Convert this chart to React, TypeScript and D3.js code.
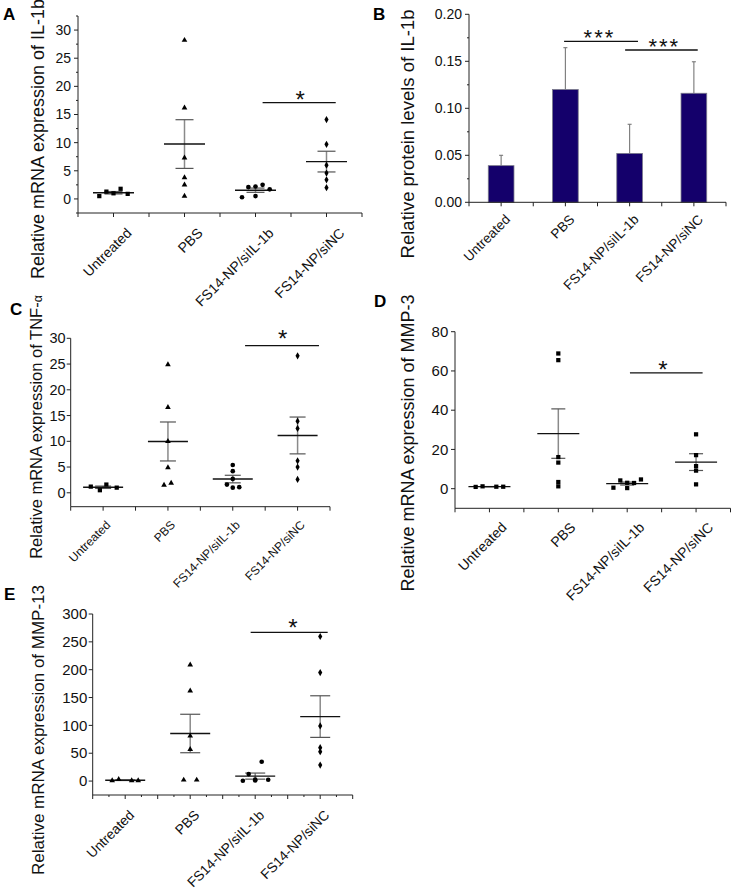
import React from "react";
import * as d3 from "d3";

const categories = ["Untreated", "PBS", "FS14-NP/siIL-1b", "FS14-NP/siNC"];

// Panel A: IL-1b mRNA
const aUntreated = [0.5, 1.3, 1.0, 1.8, 0.9];
const aPBS = [28.2, 16.2, 7.3, 3.8, 2.5, 0.5];
const aSiIL = [0.3, 2.1, 2.2, 0.5, 2.5, 1.7];
const aSiNC = [14.1, 9.7, 6.0, 4.6, 3.4, 2.0];
const aJitter = [[-0.2, -0.1, 0, 0.1, 0.2], [0, 0, 0, 0, 0, 0], [-0.19, -0.1, 0, 0, 0.1, 0.2], [0, 0, 0, 0, 0, 0]];
const aTicks = [0, 5, 10, 15, 20, 25, 30];

// Panel B: IL-1b protein
const bMeans = [0.039, 0.12, 0.052, 0.116];
const bErrors = [0.011, 0.0445, 0.031, 0.0335];
const bTicks = [0, 0.05, 0.1, 0.15, 0.2];

// Panel C: TNF-a mRNA
const cUntreated = [1.2, 0.5, 1.6, 1.0];
const cPBS = [24.9, 16.6, 10.0, 4.9, 1.5, 1.9];
const cSiIL = [5.4, 4.2, 2.7, 1.6, 1.0, 1.1];
const cSiNC = [26.6, 13.9, 12.5, 6.2, 5.0, 2.6];
const cJitter = [[-0.19, -0.05, 0.05, 0.21], [0, 0, 0, 0, -0.06, 0.05], [0, 0, 0, -0.09, 0, 0.1], [0, 0, 0, 0, 0, 0]];
const cTicks = [0, 5, 10, 15, 20, 25, 30];

// Panel D: MMP-3 mRNA
const dUntreated = [0.9, 1.2, 1.0, 1.0];
const dPBS = [68.9, 65.5, 16.1, 13.3, 3.4, 1.2];
const dSiIL = [0.5, 4.2, 3.0, 0.3, 2.9, 4.7];
const dSiNC = [27.7, 17.1, 11.5, 9.2, 2.2];
const dJitter = [[-0.2, -0.1, 0.1, 0.2], [0, 0, 0, 0, 0, 0], [-0.2, -0.1, 0, 0, 0.1, 0.2], [0, 0, 0, 0, 0]];
const dTicks = [0, 20, 40, 60, 80];

// Panel E: MMP-13 mRNA
const eUntreated = [1, 3, 1, 1];
const ePBS = [208.6, 162, 81, 57, 2, 2];
const eSiIL = [0.5, 12.6, 1.0, 2.5, 34.7, 2.3];
const eSiNC = [259.6, 194.8, 99, 60, 52.7, 28.8];
const eJitter = [[-0.2, -0.1, 0.1, 0.2], [0, 0, 0, 0, -0.1, 0.1], [-0.19, -0.1, 0, 0, 0.1, 0.2], [0, 0, 0, 0, 0, 0]];
const eTicks = [0, 50, 100, 150, 200, 250, 300];

const FONT = "'Liberation Sans', Arial, Helvetica, sans-serif";

const symbolTypes: Record<string, any> = {
  square: d3.symbolSquare,
  triangle: d3.symbolTriangle,
  circle: d3.symbolCircle,
  diamond: d3.symbolDiamond,
};
const symbolSizes: Record<string, number> = { square: 18, triangle: 14, circle: 17, diamond: 15 };

function sem(v: number[]) {
  const sd = d3.deviation(v) ?? 0;
  return sd / Math.sqrt(v.length);
}

type Sig = { x1: number; x2: number; y: number; label: string; lx: number; ly: number };

type Cfg = {
  letter: string; letterX: number; letterY: number;
  x0: number; x1: number;
  yDomain: [number, number]; yRange: [number, number];
  yTicks: number[]; yMinorStep?: number; yFmt: (v: number) => string;
  yTickFs: number; yTickGap: number;
  ylabel: React.ReactNode; ylabelX: number; ylabelY: number; ylabelFs: number;
  xLabelFs: number; xLabelDx: number; xLabelDy: number; xMinorStep: number;
  sigs: Sig[]; sigFs: number; sigSpacing?: number;
};

function Axes({ cfg, x, y }: { cfg: Cfg; x: any; y: any }) {
  const axisY = y(cfg.yDomain[0]);
  const minors: number[] = [];
  if (cfg.yMinorStep) {
    for (let v = cfg.yDomain[0]; v <= cfg.yDomain[1] + 1e-9; v += cfg.yMinorStep) {
      if (!cfg.yTicks.some((t) => Math.abs(t - v) < 1e-9)) minors.push(v);
    }
  }
  const xMinor: number[] = [];
  for (let v = 0.5; v <= 4.5 + 1e-9; v += cfg.xMinorStep) xMinor.push(v);
  return (
    <g>
      <line x1={cfg.x0} x2={cfg.x0} y1={y(cfg.yDomain[1])} y2={axisY} stroke="#222" strokeWidth={1} />
      <line x1={cfg.x0} x2={cfg.x1} y1={axisY} y2={axisY} stroke="#222" strokeWidth={1} />
      {cfg.yTicks.map((t) => (
        <g key={"yt" + t}>
          <line x1={cfg.x0 - 4} x2={cfg.x0} y1={y(t)} y2={y(t)} stroke="#222" />
          <text x={cfg.x0 - cfg.yTickGap} y={y(t)} dy="0.35em" textAnchor="end" fontSize={cfg.yTickFs} fontFamily={FONT} fill="#111">
            {cfg.yFmt(t)}
          </text>
        </g>
      ))}
      {minors.map((t) => (
        <line key={"ym" + t} x1={cfg.x0 - 2} x2={cfg.x0} y1={y(t)} y2={y(t)} stroke="#222" />
      ))}
      {xMinor.map((v) => {
        const major = Math.abs(v * 2 - Math.round(v * 2)) < 1e-9;
        return <line key={"xm" + v} x1={x(v)} x2={x(v)} y1={axisY} y2={axisY + (major ? 4 : 2)} stroke="#222" />;
      })}
      {categories.map((c, i) => (
        <text
          key={c}
          transform={`translate(${x(i + 1) + cfg.xLabelDx},${axisY + cfg.xLabelDy}) rotate(-45)`}
          textAnchor="end"
          fontSize={cfg.xLabelFs}
          fontFamily={FONT}
          fill="#111"
        >
          {c}
        </text>
      ))}
      <text
        transform={`translate(${cfg.ylabelX},${cfg.ylabelY}) rotate(-90)`}
        textAnchor="middle"
        fontSize={cfg.ylabelFs}
        fontFamily={FONT}
        fill="#111"
      >
        {cfg.ylabel}
      </text>
      <text x={cfg.letterX} y={cfg.letterY} fontSize={17} fontWeight="bold" fontFamily={FONT} fill="#000">
        {cfg.letter}
      </text>
      {cfg.sigs.map((s, i) => (
        <g key={"sig" + i}>
          <line x1={x(s.x1)} x2={x(s.x2)} y1={y(s.y)} y2={y(s.y)} stroke="#111" strokeWidth={1.3} />
          <text x={x(s.lx)} y={y(s.ly) + cfg.sigFs * 0.56} textAnchor="middle" fontSize={cfg.sigFs} fontFamily={FONT} fill="#111"
            letterSpacing={cfg.sigSpacing ?? 0}>
            {s.label}
          </text>
        </g>
      ))}
    </g>
  );
}

function ScatterPanel({ cfg, groups, jitter, shapes, meanHalf, capHalf }: {
  cfg: Cfg; groups: number[][]; jitter: number[][]; shapes: string[]; meanHalf: number; capHalf: number;
}) {
  const x = d3.scaleLinear().domain([0.5, 4.5]).range([cfg.x0, cfg.x1]);
  const y = d3.scaleLinear().domain(cfg.yDomain).range(cfg.yRange);
  return (
    <g>
      <Axes cfg={cfg} x={x} y={y} />
      {groups.map((vals, gi) => {
        const cx = x(gi + 1);
        const m = d3.mean(vals) as number;
        const e = sem(vals);
        const sym = d3.symbol().type(symbolTypes[shapes[gi]]).size(symbolSizes[shapes[gi]])();
        return (
          <g key={"g" + gi}>
            <line x1={cx} x2={cx} y1={y(m + e)} y2={y(m - e)} stroke="#8a8a8a" strokeWidth={1.5} />
            <line x1={cx - capHalf} x2={cx + capHalf} y1={y(m + e)} y2={y(m + e)} stroke="#555" strokeWidth={1.2} />
            <line x1={cx - capHalf} x2={cx + capHalf} y1={y(m - e)} y2={y(m - e)} stroke="#555" strokeWidth={1.2} />
            <line x1={cx - meanHalf} x2={cx + meanHalf} y1={y(m)} y2={y(m)} stroke="#111" strokeWidth={1.4} />
            {vals.map((v, i) => (
              <path key={i} d={sym as string} transform={`translate(${x(gi + 1 + jitter[gi][i])},${y(v)})`} fill="#000" />
            ))}
          </g>
        );
      })}
    </g>
  );
}

function BarPanel({ cfg }: { cfg: Cfg }) {
  const x = d3.scaleLinear().domain([0.5, 4.5]).range([cfg.x0, cfg.x1]);
  const y = d3.scaleLinear().domain(cfg.yDomain).range(cfg.yRange);
  const band = (cfg.x1 - cfg.x0) / 4;
  const bw = band * 0.4;
  return (
    <g>
      {bMeans.map((m, i) => {
        const cx = x(i + 1);
        return (
          <g key={"b" + i}>
            <line x1={cx} x2={cx} y1={y(m)} y2={y(m + bErrors[i])} stroke="#777" strokeWidth={1.1} />
            <line x1={cx - 2} x2={cx + 2} y1={y(m + bErrors[i])} y2={y(m + bErrors[i])} stroke="#777" strokeWidth={1.1} />
            <rect x={cx - bw / 2} y={y(m)} width={bw} height={y(0) - y(m)} fill="#14006b" stroke="#7a7a8a" strokeWidth={0.8} />
          </g>
        );
      })}
      <Axes cfg={cfg} x={x} y={y} />
    </g>
  );
}

const fmtInt = (v: number) => d3.format("d")(v);

const cfgA: Cfg = {
  letter: "A", letterX: 3, letterY: 20,
  x0: 78, x1: 362, yDomain: [-2.5, 32.5], yRange: [213, 16],
  yTicks: aTicks, yMinorStep: 2.5, yFmt: fmtInt, yTickFs: 14, yTickGap: 7,
  ylabel: "Relative mRNA expression of IL-1b", ylabelX: 44, ylabelY: 139, ylabelFs: 18,
  xLabelFs: 14, xLabelDx: 19, xLabelDy: 21, xMinorStep: 0.5,
  sigs: [{ x1: 3.1, x2: 4.13, y: 17.1, label: "*", lx: 3.63, ly: 18.5 }], sigFs: 24,
};

const cfgB: Cfg = {
  letter: "B", letterX: 373, letterY: 20,
  x0: 469, x1: 726, yDomain: [0, 0.2], yRange: [202.3, 14.3],
  yTicks: bTicks, yMinorStep: 0.025, yFmt: (v) => d3.format(".2f")(v), yTickFs: 14, yTickGap: 7,
  ylabel: "Relative protein levels of IL-1b", ylabelX: 413.5, ylabelY: 134, ylabelFs: 18.5,
  xLabelFs: 13.5, xLabelDx: 10, xLabelDy: 18, xMinorStep: 0.5,
  sigs: [
    { x1: 1.98, x2: 3.13, y: 0.1713, label: "***", lx: 2.53, ly: 0.1804 },
    { x1: 2.93, x2: 4.06, y: 0.162, label: "***", lx: 3.54, ly: 0.1709 },
  ],
  sigFs: 22, sigSpacing: 2,
};

const cfgC: Cfg = {
  letter: "C", letterX: 10, letterY: 315,
  x0: 70.7, x1: 330, yDomain: [-2.7, 30], yRange: [506.7, 338.3],
  yTicks: cTicks, yFmt: fmtInt, yTickFs: 14.5, yTickGap: 5,
  ylabel: (
    <>
      {"Relative mRNA expression of TNF-"}
      <tspan fontSize="0.75em">α</tspan>
    </>
  ),
  ylabelX: 42, ylabelY: 427, ylabelFs: 16.5,
  xLabelFs: 12, xLabelDx: 8, xLabelDy: 19, xMinorStep: 0.5,
  sigs: [{ x1: 3.19, x2: 4.33, y: 28.56, label: "*", lx: 3.77, ly: 30.9 }], sigFs: 24,
};

const cfgD: Cfg = {
  letter: "D", letterX: 374, letterY: 307,
  x0: 455, x1: 730.5, yDomain: [-10, 80], yRange: [508.3, 331.7],
  yTicks: dTicks, yFmt: fmtInt, yTickFs: 15, yTickGap: 6.7,
  ylabel: "Relative mRNA expression of MMP-3", ylabelX: 413.5, ylabelY: 443, ylabelFs: 18,
  xLabelFs: 14, xLabelDx: 18, xLabelDy: 20, xMinorStep: 0.5,
  sigs: [{ x1: 3.04, x2: 4.095, y: 59.05, label: "*", lx: 3.52, ly: 63 }], sigFs: 24,
};

const cfgE: Cfg = {
  letter: "E", letterX: 4, letterY: 600,
  x0: 92.7, x1: 352.7, yDomain: [-25, 300], yRange: [795, 614],
  yTicks: eTicks, yFmt: fmtInt, yTickFs: 15, yTickGap: 5.4,
  ylabel: "Relative mRNA expression of MMP-13", ylabelX: 43.5, ylabelY: 730, ylabelFs: 17,
  xLabelFs: 13.8, xLabelDx: 10, xLabelDy: 21, xMinorStep: 0.25,
  sigs: [{ x1: 2.93, x2: 4.115, y: 267.1, label: "*", lx: 3.58, ly: 283.8 }], sigFs: 24,
};

export default function App() {
  return (
    <div style={{ position: "absolute", left: 0, top: 0, width: 732, height: 893, background: "#fff" }}>
      <svg width={732} height={893} viewBox="0 0 732 893">
        <rect width={732} height={893} fill="#fff" />
        <ScatterPanel cfg={cfgA} groups={[aUntreated, aPBS, aSiIL, aSiNC]} jitter={aJitter}
          shapes={["square", "triangle", "circle", "diamond"]} meanHalf={20.5} capHalf={9} />
        <BarPanel cfg={cfgB} />
        <ScatterPanel cfg={cfgC} groups={[cUntreated, cPBS, cSiIL, cSiNC]} jitter={cJitter}
          shapes={["square", "triangle", "circle", "diamond"]} meanHalf={20} capHalf={8} />
        <ScatterPanel cfg={cfgD} groups={[dUntreated, dPBS, dSiIL, dSiNC]} jitter={dJitter}
          shapes={["square", "square", "square", "square"]} meanHalf={21} capHalf={7} />
        <ScatterPanel cfg={cfgE} groups={[eUntreated, ePBS, eSiIL, eSiNC]} jitter={eJitter}
          shapes={["triangle", "triangle", "circle", "diamond"]} meanHalf={20} capHalf={10} />
      </svg>
    </div>
  );
}
